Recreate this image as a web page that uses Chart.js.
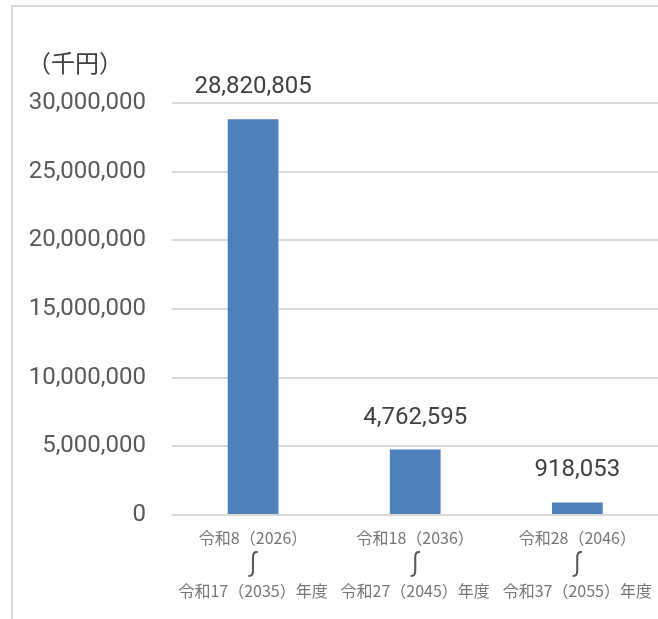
<!DOCTYPE html>
<html>
<head>
<meta charset="utf-8">
<script src="https://cdn.jsdelivr.net/npm/chart.js@4/dist/chart.umd.min.js"></script>
<style>
html,body{margin:0;padding:0;background:#fff;overflow:hidden;width:658px;height:619px;}
canvas{display:block;}
</style>
</head>
<body>
<canvas id="c" width="662" height="619"></canvas>
<script>
const categories = [
  ["令和8（2026）", "", "令和17（2035）年度"],
  ["令和18（2036）", "", "令和27（2045）年度"],
  ["令和28（2046）", "", "令和37（2055）年度"]
];
const rangeMark = "∫";
const values = [28820805, 4762595, 918053];
const yTicks = [0, 5000000, 10000000, 15000000, 20000000, 25000000, 30000000];
const unitLabel = "（千円）";

const fmt = v => v.toLocaleString('en-US');

const framePlugin = {
  id: 'frame',
  beforeDraw(chart) {
    const ctx = chart.ctx;
    ctx.save();
    ctx.strokeStyle = '#d9d9d9';
    ctx.lineWidth = 2;
    ctx.beginPath();
    ctx.moveTo(12, 619);
    ctx.lineTo(12, 6);
    ctx.lineTo(chart.width, 6);
    ctx.stroke();
    ctx.restore();
  }
};

const labelPlugin = {
  id: 'labels',
  afterDatasetsDraw(chart) {
    const ctx = chart.ctx;
    ctx.save();
    ctx.font = '24px Roboto, "Noto Sans CJK JP", sans-serif';
    ctx.fillStyle = '#404040';
    ctx.textAlign = 'center';
    ctx.textBaseline = 'middle';
    const meta = chart.getDatasetMeta(0);
    meta.data.forEach((bar, i) => {
      ctx.fillText(fmt(values[i]), bar.x, bar.y - 32);
    });
    // range marks between the two lines of each category label
    const xs = chart.scales.x;
    ctx.font = '26px "Noto Sans CJK JP", sans-serif';
    ctx.fillStyle = '#595959';
    categories.forEach((c, i) => {
      ctx.fillText(rangeMark, xs.getPixelForValue(i), xs.top + 49);
    });
    ctx.font = '24px "Noto Sans CJK JP", sans-serif';
    ctx.fillStyle = '#404040';
    ctx.textAlign = 'left';
    ctx.fillText(unitLabel, 27, 63);
    ctx.restore();
  }
};

new Chart(document.getElementById('c'), {
  type: 'bar',
  data: {
    labels: categories,
    datasets: [{
      data: values,
      backgroundColor: '#4f81bd',
      borderWidth: 0,
      barPercentage: 0.313,
      categoryPercentage: 1.0
    }]
  },
  options: {
    responsive: false,
    animation: false,
    devicePixelRatio: 1,
    layout: { padding: { top: 103, right: 0, bottom: 0, left: 0 } },
    plugins: { legend: { display: false }, tooltip: { enabled: false } },
    scales: {
      x: {
        grid: { display: false, drawTicks: false },
        border: { display: false },
        ticks: {
          color: '#767676',
          font: { family: '"Noto Sans CJK JP", sans-serif', size: 16, lineHeight: 1.65 },
          padding: 10,
          maxRotation: 0,
          autoSkip: false
        },
        afterFit(scale) { scale.height = 104; }
      },
      y: {
        min: 0,
        max: 30000000,
        afterBuildTicks(scale) { scale.ticks = yTicks.map(v => ({ value: v })); },
        grid: { color: '#d9d9d9', lineWidth: 2, drawTicks: false },
        border: { display: false },
        ticks: {
          color: '#595959',
          font: { family: 'Roboto, sans-serif', size: 24 },
          padding: 26,
          callback: v => fmt(v)
        },
        afterFit(scale) { scale.width = 172; }
      }
    }
  },
  plugins: [framePlugin, labelPlugin]
});
</script>
</body>
</html>
